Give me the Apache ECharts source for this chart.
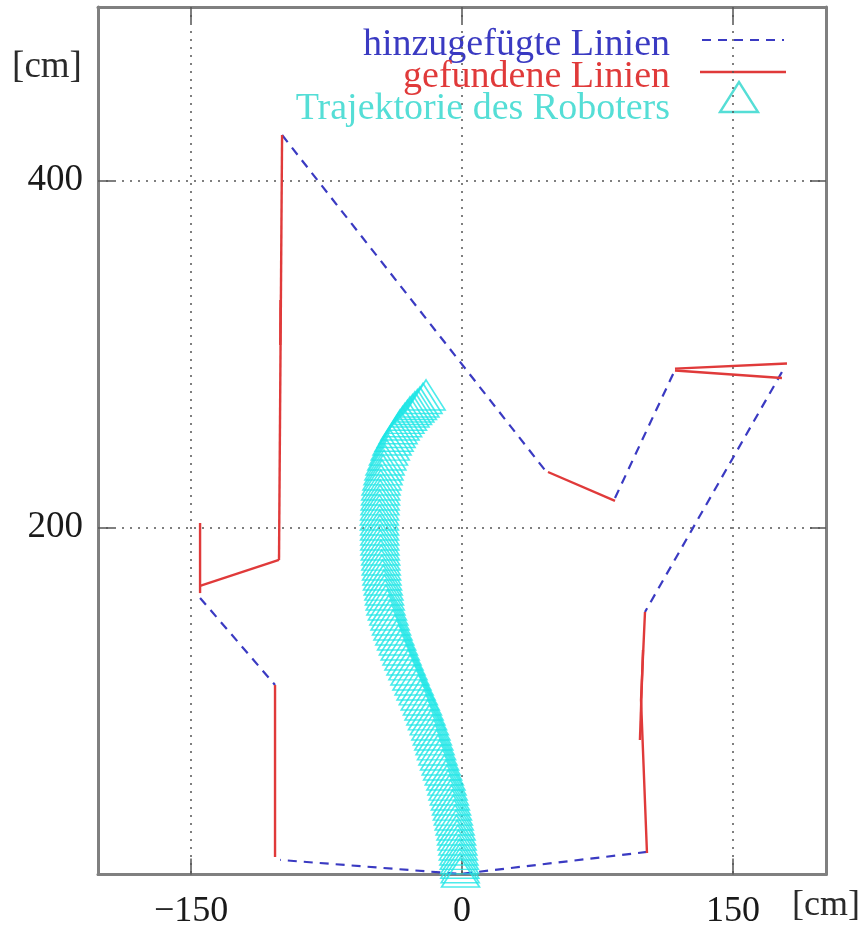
<!DOCTYPE html>
<html>
<head>
<meta charset="utf-8">
<script src="https://cdn.jsdelivr.net/npm/echarts@6/dist/echarts.min.js"></script>
<style>
html,body{margin:0;padding:0;background:#fff;}
#chart{width:865px;height:931px;}
</style>
</head>
<body>
<div id="chart"></div>
<script>
// ---- data (cm) ----
const xTicks = [-150, 0, 150];
const yTicks = [200, 400];

// "hinzugefügte Linien" (dashed polylines)
const addedLines = [
  [[-99.6, 426.2], [45.9, 233.1]],
  [[84.7, 217.0], [117.9, 290.8]],
  [[177.1, 289.6], [101.3, 151.3]],
  [[102.4, 13.0], [-1.1, 0.3], [-100.7, 8.4]],
  [[-145.0, 159.4], [-103.5, 109.2]]
];

// "gefundene Linien" (solid polylines)
const foundLines = [
  [[-145.0, 202.6], [-145.0, 162.2]],
  [[-145.0, 166.3], [-101.3, 181.3]],
  [[-101.3, 181.3], [-99.6, 426.2]],
  [[-100.5, 331.1], [-100.6, 305.2]],
  [[47.6, 232.0], [84.7, 215.3]],
  [[117.9, 291.6], [179.9, 294.5]],
  [[117.9, 290.5], [177.1, 286.2]],
  [[101.3, 151.3], [99.1, 100.6], [102.4, 12.4]],
  [[100.2, 129.4], [98.5, 77.5]],
  [[-103.5, 109.2], [-103.5, 10.1]]
];

// "Trajektorie des Roboters" (dense robot positions)
const trajX = [
  -0.8, -1.0, -1.2, -1.3, -1.5,
  -1.7, -2.0, -2.3, -2.7, -3.0,
  -3.3, -3.8, -4.3, -4.8, -5.3,
  -5.8, -6.4, -7.0, -7.7, -8.3,
  -8.9, -9.8, -10.7, -11.5, -12.4,
  -13.3, -14.1, -14.9, -15.6, -16.4,
  -17.2, -18.1, -19.1, -20.0, -21.0,
  -21.9, -23.1, -24.2, -25.4, -26.5,
  -27.7, -28.8, -29.9, -31.0, -32.1,
  -33.2, -34.2, -35.2, -36.2, -37.2,
  -38.2, -39.0, -39.8, -40.5, -41.3,
  -42.1, -42.5, -42.9, -43.2, -43.6, -44.0,
  -44.3, -44.5, -44.7, -44.9, -45.0, -45.2,
  -45.4, -45.5, -45.5, -45.6, -45.6, -45.7,
  -45.7, -45.6, -45.4, -45.3, -45.1, -45.0,
  -44.8, -44.3, -43.7, -43.2,
  -42.6, -41.6, -40.7, -39.7,
  -38.7, -37.6, -36.5, -35.4,
  -34.3, -32.9, -31.6, -30.2,
  -28.8, -27.4, -26.1, -24.7,
  -23.3, -21.6, -19.9
];
const trajY = [
  1.4, 3.9, 6.5, 9.0, 11.6,
  14.1, 17.0, 19.9, 22.7, 25.6,
  28.5, 31.4, 34.3, 37.1, 40.0,
  42.9, 45.8, 48.7, 51.5, 54.4,
  57.3, 60.2, 63.1, 66.0, 68.9,
  71.8, 74.7, 77.6, 80.4, 83.3,
  86.2, 89.1, 92.0, 94.8, 97.7,
  100.6, 103.5, 106.4, 109.2, 112.1,
  115.0, 117.9, 120.8, 123.6, 126.5,
  129.4, 132.3, 135.2, 138.0, 140.9,
  143.8, 146.7, 149.6, 152.4, 155.3,
  158.2, 161.1, 164.0, 166.8, 169.7, 172.6,
  175.5, 178.4, 181.3, 184.1, 187.0, 189.9,
  192.8, 195.7, 198.6, 201.4, 204.3, 207.2,
  210.1, 213.0, 215.9, 218.7, 221.6, 224.5,
  227.4, 230.3, 233.2, 236.0,
  238.9, 241.8, 244.6, 247.5,
  250.4, 252.6, 254.8, 256.9,
  259.1, 261.0, 262.9, 264.7,
  266.6, 268.0, 269.5, 270.9,
  272.3, 274.4, 276.4
];

const legendLabels = ['hinzugefügte Linien', 'gefundene Linien', 'Trajektorie des Roboters'];
const unitLabel = '[cm]';

// ---- styles ----
const SERIF = '"Liberation Serif", "DejaVu Serif", serif';
const BLUE = '#3a3ac2';
const RED = '#e03a3a';
const CYAN = '#1fe6e6';
const CYAN_TXT = '#55ded6';
const FRAME = '#808080';

const chart = echarts.init(document.getElementById('chart'), null, {renderer: 'canvas'});

const fmtX = v => (v < 0 ? '\u2212' + Math.abs(v) : String(v));

function baseAxis(extra) {
  return Object.assign({
    type: 'value',
    axisLine: {show: true, onZero: false, lineStyle: {color: FRAME, width: 3}},
    axisTick: {show: true, inside: true, length: 16, lineStyle: {color: '#555', width: 1.5}},
    splitLine: {show: false},
    axisLabel: {show: false}
  }, extra);
}

const xMain = baseAxis({
  min: -201.5, max: 201.5, position: 'bottom',
  axisTick: {show: true, inside: true, length: 16, customValues: xTicks, lineStyle: {color: '#555', width: 1.5}},
  axisLabel: {show: true, customValues: xTicks, formatter: fmtX, fontFamily: SERIF, fontSize: 36, color: '#1a1a1a', margin: 19},
  splitLine: {show: true, lineStyle: {type: [2, 6], color: '#555', width: 1.5}}
});
const xTop = baseAxis({
  min: -201.5, max: 201.5, position: 'top',
  axisTick: {show: true, inside: true, length: 16, customValues: xTicks, lineStyle: {color: '#555', width: 1.5}}
});
const yMain = baseAxis({
  min: 0, max: 500, position: 'left',
  axisTick: {show: true, inside: true, length: 16, customValues: yTicks, lineStyle: {color: '#555', width: 1.5}},
  axisLabel: {show: true, customValues: yTicks, fontFamily: SERIF, fontSize: 37, color: '#1a1a1a', margin: 15},
  splitLine: {show: true, lineStyle: {type: [2, 6], color: '#555', width: 1.5}}
});
const yRight = baseAxis({
  min: 0, max: 500, position: 'right',
  axisTick: {show: true, inside: true, length: 16, customValues: yTicks, lineStyle: {color: '#555', width: 1.5}}
});

const series = [];
addedLines.forEach(seg => series.push({
  type: 'line', name: legendLabels[0], data: seg, showSymbol: false, symbol: 'none',
  xAxisIndex: 0, yAxisIndex: 0, clip: false, silent: true, z: 3,
  lineStyle: {color: BLUE, width: 2.2, type: [9, 7]}
}));
foundLines.forEach(seg => series.push({
  type: 'line', name: legendLabels[1], data: seg, showSymbol: false, symbol: 'none',
  xAxisIndex: 0, yAxisIndex: 0, clip: false, silent: true, z: 4,
  lineStyle: {color: RED, width: 2.4}
}));
series.push({
  type: 'scatter', name: legendLabels[2],
  data: trajX.map((x, i) => [x, trajY[i]]),
  xAxisIndex: 0, yAxisIndex: 0, clip: false, silent: true, z: 5,
  symbol: 'triangle', symbolSize: [38, 30],
  itemStyle: {color: 'rgba(0,0,0,0)', borderColor: CYAN, borderWidth: 1.6}
});

const legendFont = '38px ' + SERIF;
const graphic = [
  {type: 'text', x: 670, y: 45, style: {text: legendLabels[0], font: legendFont, fill: BLUE, textAlign: 'right', textVerticalAlign: 'middle'}},
  {type: 'text', x: 670, y: 77, style: {text: legendLabels[1], font: legendFont, fill: RED, textAlign: 'right', textVerticalAlign: 'middle'}},
  {type: 'text', x: 670, y: 109, style: {text: legendLabels[2], font: legendFont, fill: CYAN_TXT, textAlign: 'right', textVerticalAlign: 'middle'}},
  {type: 'line', shape: {x1: 702, y1: 40, x2: 784, y2: 40}, style: {stroke: BLUE, lineWidth: 2.2, lineDash: [9, 7]}},
  {type: 'line', shape: {x1: 700, y1: 72, x2: 786, y2: 72}, style: {stroke: RED, lineWidth: 2.4}},
  {type: 'polygon', shape: {points: [[720, 112], [758, 112], [739, 82]]}, style: {stroke: CYAN_TXT, fill: 'none', lineWidth: 2.4}},
  {type: 'text', x: 47, y: 67, style: {text: unitLabel, font: '37px ' + SERIF, fill: '#2a2a2a', textAlign: 'center', textVerticalAlign: 'middle'}},
  {type: 'text', x: 826, y: 906, style: {text: unitLabel, font: '36px ' + SERIF, fill: '#2a2a2a', textAlign: 'center', textVerticalAlign: 'middle'}}
];

chart.setOption({
  animation: false,
  backgroundColor: '#fff',
  grid: {left: 98, top: 7, width: 728, height: 867.5, containLabel: false},
  xAxis: [xMain, xTop],
  yAxis: [yMain, yRight],
  series: series,
  graphic: graphic
});
</script>
</body>
</html>
